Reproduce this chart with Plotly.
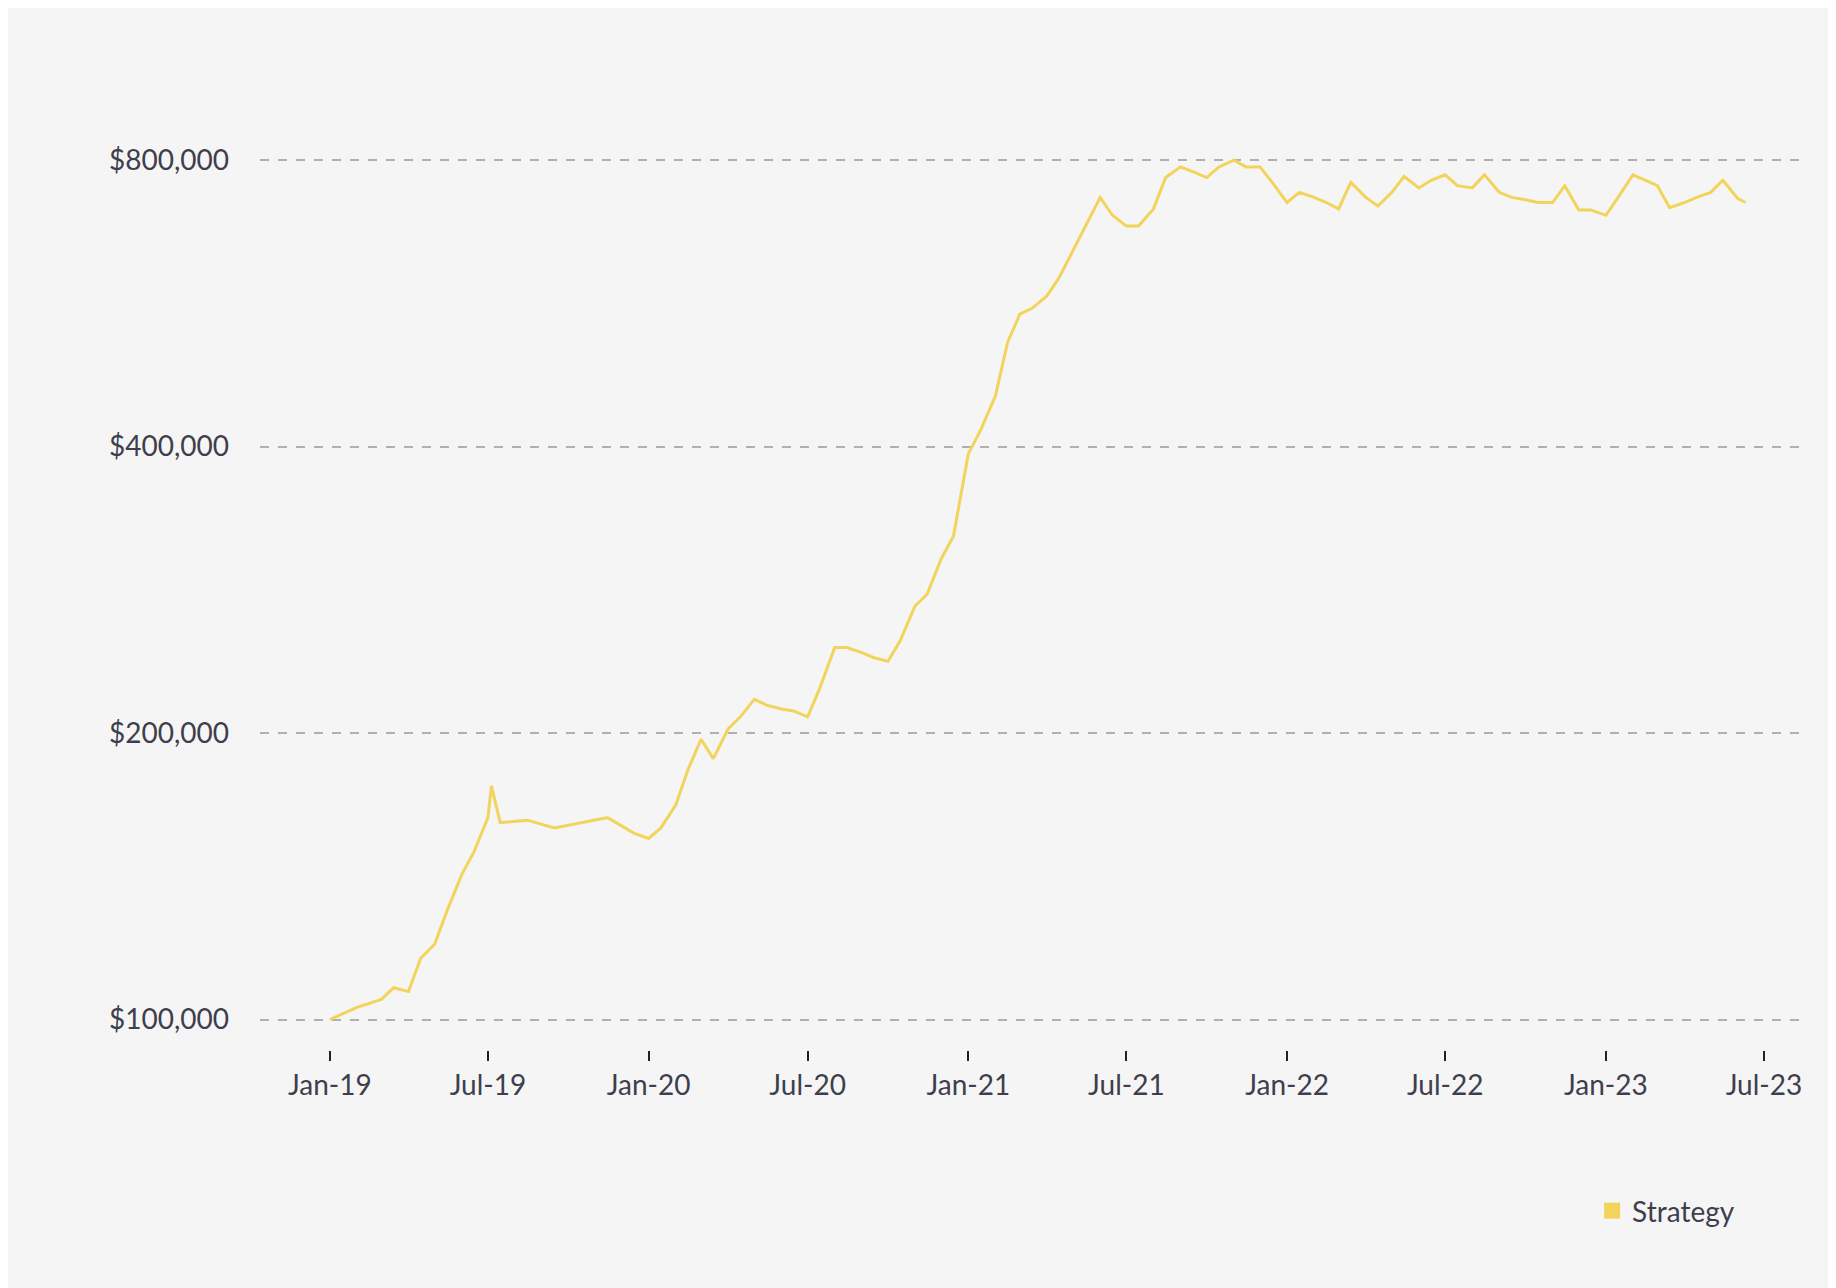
import plotly.graph_objects as go

# approximate half-monthly readings of the strategy value
dates = [
    "2019-01-01", "2019-02-01", "2019-03-01", "2019-03-15", "2019-04-01", "2019-04-15",
    "2019-05-01", "2019-05-15", "2019-06-01", "2019-06-15", "2019-07-01", "2019-07-05",
    "2019-07-15", "2019-08-15", "2019-09-15", "2019-10-15", "2019-11-15", "2019-12-15",
    "2020-01-01", "2020-01-15", "2020-02-01", "2020-02-15", "2020-03-01", "2020-03-15",
    "2020-04-01", "2020-04-15", "2020-05-01", "2020-05-15", "2020-06-01", "2020-06-15",
    "2020-07-01", "2020-07-15", "2020-08-01", "2020-08-15", "2020-09-01", "2020-09-15",
    "2020-10-01", "2020-10-15", "2020-11-01", "2020-11-15", "2020-12-01", "2020-12-15",
    "2021-01-01", "2021-01-15", "2021-02-01", "2021-02-15", "2021-03-01", "2021-03-15",
    "2021-04-01", "2021-04-15", "2021-05-01", "2021-05-15", "2021-06-01", "2021-06-15",
    "2021-07-01", "2021-07-15", "2021-08-01", "2021-08-15", "2021-09-01", "2021-09-15",
    "2021-10-01", "2021-10-15", "2021-11-01", "2021-11-15", "2021-12-01", "2021-12-15",
    "2022-01-01", "2022-01-15", "2022-02-01", "2022-02-15", "2022-03-01", "2022-03-15",
    "2022-04-01", "2022-04-15", "2022-05-01", "2022-05-15", "2022-06-01", "2022-06-15",
    "2022-07-01", "2022-07-15", "2022-08-01", "2022-08-15", "2022-09-01", "2022-09-15",
    "2022-10-01", "2022-10-15", "2022-11-01", "2022-11-15", "2022-12-01", "2022-12-15",
    "2023-01-01", "2023-01-15", "2023-02-01", "2023-02-15", "2023-03-01", "2023-03-15",
    "2023-04-01", "2023-04-15", "2023-05-01", "2023-05-15", "2023-06-01", "2023-06-10",
]
values = [
    100000, 103000, 105000, 108000, 107000, 116000,
    120000, 130000, 142000, 150000, 163000, 176000,
    161000, 162000, 159000, 161000, 163000, 157000,
    155000, 159000, 168000, 183000, 197000, 188000,
    202000, 208000, 217000, 214000, 212000, 211000,
    208000, 223000, 246000, 246000, 243000, 240000,
    238000, 250000, 272000, 280000, 305000, 322000,
    393000, 416000, 452000, 515000, 551000, 559000,
    576000, 602000, 644000, 682000, 731000, 700000,
    682000, 682000, 711000, 767000, 787000, 778000,
    767000, 787000, 800000, 787000, 787000, 758000,
    722000, 740000, 731000, 722000, 711000, 758000,
    731000, 716000, 740000, 769000, 748000, 762000,
    772000, 752000, 748000, 772000, 740000, 731000,
    727000, 722000, 722000, 752000, 709000, 709000,
    700000, 731000, 772000, 762000, 752000, 713000,
    722000, 731000, 740000, 762000, 729000, 722000,
]

tick_vals = [100000, 200000, 400000, 800000]
tick_text = ["$100,000", "$200,000", "$400,000", "$800,000"]
x_ticks = ["2019-01-01", "2019-07-01", "2020-01-01", "2020-07-01", "2021-01-01", "2021-07-01",
           "2022-01-01", "2022-07-01", "2023-01-01", "2023-07-01"]
x_text = ["Jan-19", "Jul-19", "Jan-20", "Jul-20", "Jan-21", "Jul-21",
          "Jan-22", "Jul-22", "Jan-23", "Jul-23"]

font_color = "#3d3f4c"
line_color = "#f2d45c"

fig = go.Figure()
fig.add_trace(go.Scatter(
    x=dates, y=values, name="Strategy", mode="lines",
    line=dict(color=line_color, width=3), showlegend=False,
))
# legend-only entry with a square swatch
fig.add_trace(go.Scatter(
    x=[None], y=[None], name="Strategy", mode="markers",
    marker=dict(color=line_color, symbol="square", size=20),
))

fig.update_layout(
    width=1836, height=1288,
    paper_bgcolor="#f5f5f5", plot_bgcolor="#f5f5f5",
    font=dict(family="Lato", size=28, color=font_color),
    margin=dict(l=252, r=39, t=117, b=246, autoexpand=False),
    showlegend=True,
    legend=dict(x=0.958, xanchor="right", y=-0.174, yanchor="middle",
                bgcolor="rgba(0,0,0,0)", font=dict(size=28, color=font_color)),
    xaxis=dict(
        range=["2018-10-13", "2023-08-17"],
        tickvals=x_ticks, ticktext=x_text,
        ticks="outside", ticklen=10, tickwidth=2, tickcolor="#222",
        showgrid=False, zeroline=False, showline=False,
    ),
    yaxis=dict(
        type="log", range=[4.968, 5.94],
        tickvals=tick_vals, ticktext=tick_text,
        showgrid=True, gridcolor="#b0b0b0", griddash="dash", gridwidth=2,
        zeroline=False, showline=False, ticks="", ticklabelstandoff=30,
    ),
)

fig.write_html("out.html")
